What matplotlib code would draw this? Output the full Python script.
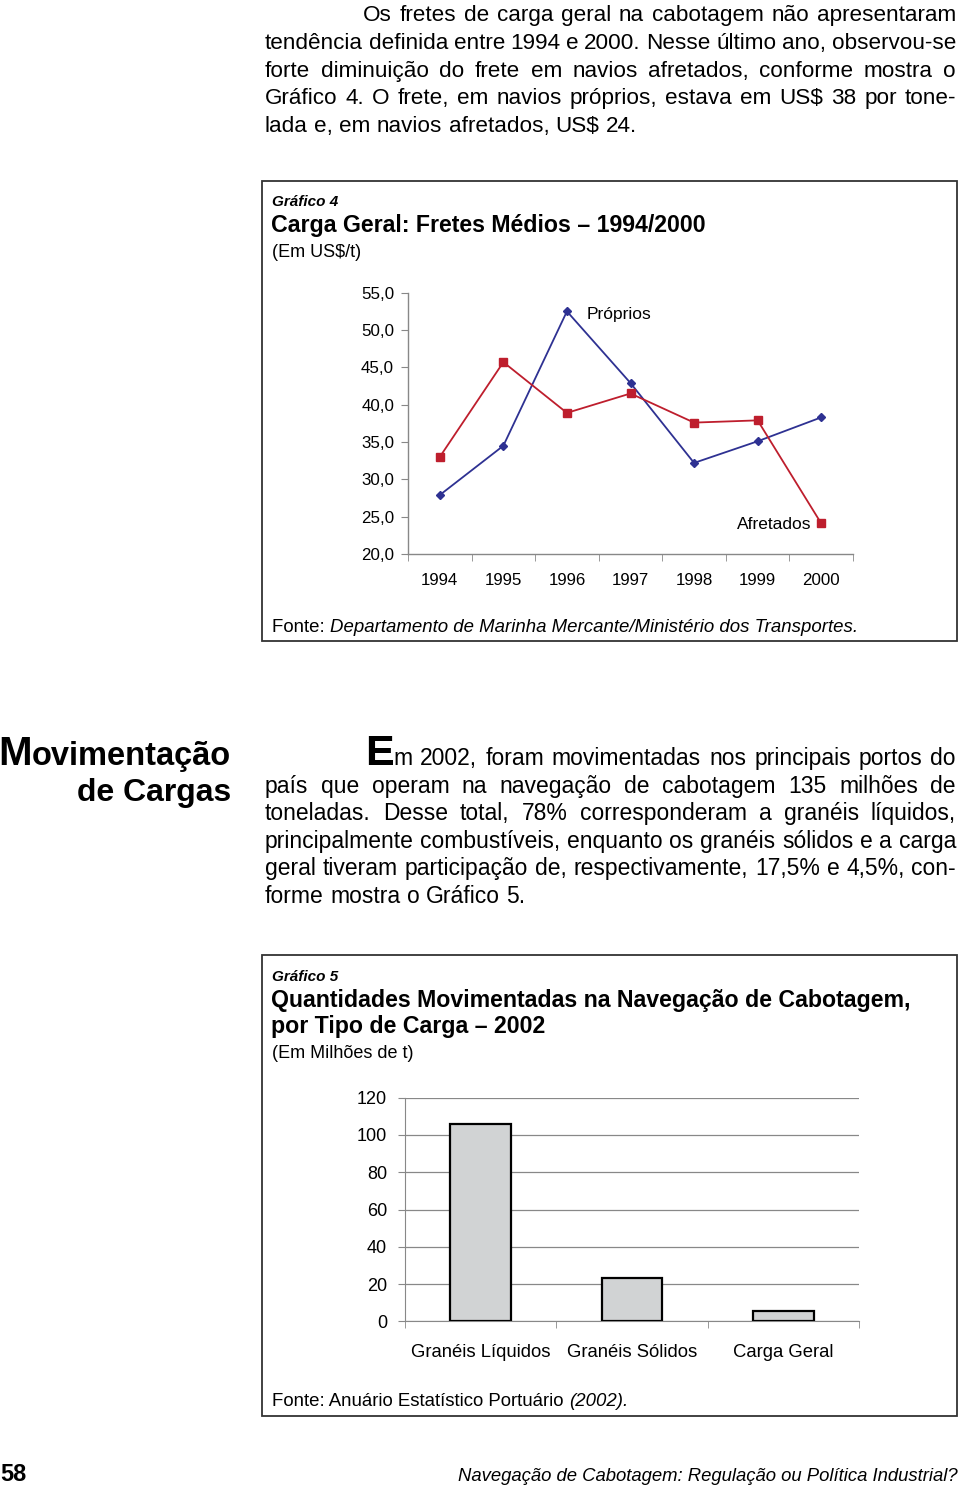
import matplotlib
matplotlib.use('Agg')
import matplotlib.pyplot as plt
from matplotlib.patches import Rectangle
from matplotlib.ticker import FuncFormatter

# ── Dados ──────────────────────────────────────────────────────────────
anos      = ['1994', '1995', '1996', '1997', '1998', '1999', '2000']
proprios  = [27.9, 34.5, 52.5, 42.9, 32.2, 35.1, 38.3]
afretados = [33.0, 45.7, 38.9, 41.5, 37.6, 37.9, 24.1]

tipos   = ['Granéis Líquidos', 'Granéis Sólidos', 'Carga Geral']
milhoes = [105.8, 23.3, 5.6]

par1 = ['Os fretes de carga geral na cabotagem não apresentaram',
        'tendência definida entre 1994 e 2000. Nesse último ano, observou-se',
        'forte diminuição do frete em navios afretados, conforme mostra o',
        'Gráfico 4. O frete, em navios próprios, estava em US$ 38 por tone-',
        'lada e, em navios afretados, US$ 24.']
par2 = ['m 2002, foram movimentadas nos principais portos do',
        'país que operam na navegação de cabotagem 135 milhões de',
        'toneladas. Desse total, 78% corresponderam a granéis líquidos,',
        'principalmente combustíveis, enquanto os granéis sólidos e a carga',
        'geral tiveram participação de, respectivamente, 17,5% e 4,5%, con-',
        'forme mostra o Gráfico 5.']

# ── Página ─────────────────────────────────────────────────────────────
W, H = 960, 1487
plt.rcParams['font.family'] = ['Liberation Sans', 'DejaVu Sans']
fig = plt.figure(figsize=(W / 100, H / 100), dpi=100)
fig.patch.set_facecolor('white')
rend = fig.canvas.get_renderer()


def fx(x):
    return x / W


def fy(y):
    return 1 - y / H


def put(x, y, s, **kw):
    return fig.text(fx(x), fy(y), s, va='baseline', **kw)


def wid(t):
    return t.get_window_extent(rend).width


def space_w(size, **kw):
    a = put(0, 0, 'a a', fontsize=size, **kw)
    b = put(0, 0, 'aa', fontsize=size, **kw)
    w = wid(a) - wid(b)
    a.remove(); b.remove()
    return w


def paragraph(lines, starts, x1, y0, dy, size, min_sp=0.6, **kw):
    # reduz o corpo só se alguma linha não couber nem com espaços apertados
    sp = space_w(size, **kw)
    scale = 1.0
    for i, ln in enumerate(lines[:-1]):
        words = ln.split()
        ts = [put(0, 0, w, fontsize=size, **kw) for w in words]
        nat = sum(wid(t) for t in ts) + sp * min_sp * (len(words) - 1)
        for t in ts:
            t.remove()
        scale = min(scale, (x1 - starts[i]) / nat)
    size = size * scale
    sp = space_w(size, **kw)
    for i, ln in enumerate(lines):
        words = ln.split()
        ts = [put(0, y0 + i * dy, w, fontsize=size, **kw) for w in words]
        ws = [wid(t) for t in ts]
        if i == len(lines) - 1:
            gap = sp
        else:
            gap = (x1 - starts[i] - sum(ws)) / max(len(words) - 1, 1)
        x = starts[i]
        for t, w in zip(ts, ws):
            t.set_x(fx(x))
            x += w + gap


def box(x0, y0, x1, y1):
    fig.patches.append(Rectangle((fx(x0), fy(y1)), fx(x1) - fx(x0), fy(y0) - fy(y1),
                                 transform=fig.transFigure, fill=False,
                                 ec='#333333', lw=1.3))


# parágrafo de abertura
paragraph(par1, [363, 265, 265, 265, 265], 956, 21, 27.8, 16.2)

# ── Gráfico 4 ──────────────────────────────────────────────────────────
box(262, 181, 957, 641)
put(272, 206, 'Gráfico 4', fontsize=11, fontweight='bold', style='italic')
put(271, 232, 'Carga Geral: Fretes Médios – 1994/2000', fontsize=16.7, fontweight='bold')
put(272, 257, '(Em US$/t)', fontsize=13)

ax1 = fig.add_axes([fx(408), fy(554), (853 - 408) / W, (554 - 292.7) / H])
xs = range(len(anos))
ax1.plot(xs, proprios, '-', color='#2E3192', lw=1.3, marker='D', ms=4.5,
         mfc='#2E3192', mec='#2E3192', clip_on=False)
ax1.plot(xs, afretados, '-', color='#BE1E2D', lw=1.3, marker='s', ms=6,
         mfc='#BE1E2D', mec='#BE1E2D', clip_on=False)
ax1.set_xlim(-0.5, len(anos) - 0.5)
ax1.set_ylim(20, 55)
ax1.set_yticks(range(20, 56, 5))
ax1.yaxis.set_major_formatter(FuncFormatter(lambda v, p: f'{v:.1f}'.replace('.', ',')))
ax1.set_xticks(list(xs))
ax1.set_xticklabels(anos)
ax1.set_xticks([i - 0.5 for i in range(len(anos) + 1)], minor=True)
ax1.tick_params(axis='x', which='major', length=0, pad=13.5, labelsize=12.2)
ax1.tick_params(axis='x', which='minor', length=5, color='#888888')
ax1.tick_params(axis='y', length=5, color='#888888', pad=5, labelsize=12.2)
for s in ['top', 'right']:
    ax1.spines[s].set_visible(False)
for s in ['left', 'bottom']:
    ax1.spines[s].set_color('#888888')
    ax1.spines[s].set_linewidth(1)
ax1.patch.set_alpha(0)

put(587, 319, 'Próprios', fontsize=12.5)
put(737, 529, 'Afretados', fontsize=12.5)

f1 = put(272, 632, 'Fonte: ', fontsize=13.4)
put(272 + wid(f1), 632, 'Departamento de Marinha Mercante/Ministério dos Transportes.',
    fontsize=13.4, style='italic')

# ── Movimentação de Cargas ─────────────────────────────────────────────
t_ov = put(231, 765, 'ovimentação', fontsize=23.5, fontweight='bold', ha='right')
put(231 - wid(t_ov), 765, 'M', fontsize=29, fontweight='bold', ha='right')
put(231, 801, 'de Cargas', fontsize=23, fontweight='bold', ha='right')

put(365, 765, 'E', fontsize=31, fontweight='bold')
paragraph(par2, [393, 265, 265, 265, 265, 265], 956, 765, 27.6, 16.5)

# ── Gráfico 5 ──────────────────────────────────────────────────────────
box(262, 955, 957, 1416)
put(272, 981, 'Gráfico 5', fontsize=11, fontweight='bold', style='italic')
put(271, 1007, 'Quantidades Movimentadas na Navegação de Cabotagem,', fontsize=16.7,
    fontweight='bold')
put(271, 1033, 'por Tipo de Carga – 2002', fontsize=16.7, fontweight='bold')
put(272, 1058, '(Em Milhões de t)', fontsize=13)

ax2 = fig.add_axes([fx(405), fy(1321.3), (859 - 405) / W, (1321.3 - 1097.7) / H])
xb = range(len(tipos))
ax2.bar(xb, milhoes, width=0.4, color='#D1D3D4', edgecolor='black', lw=1.6, zorder=3)
ax2.set_xlim(-0.5, len(tipos) - 0.5)
ax2.set_ylim(0, 120)
ax2.set_yticks(range(0, 121, 20))
ax2.yaxis.grid(True, color='#888888', lw=0.9)
ax2.set_axisbelow(True)
ax2.set_xticks(list(xb))
ax2.set_xticklabels(tipos)
ax2.set_xticks([i - 0.5 for i in range(len(tipos) + 1)], minor=True)
ax2.tick_params(axis='x', which='major', length=0, pad=16.5, labelsize=13.3)
ax2.tick_params(axis='x', which='minor', length=5, color='#888888')
ax2.tick_params(axis='y', length=5, color='#888888', pad=8, labelsize=13)
for s in ['top', 'right']:
    ax2.spines[s].set_visible(False)
for s in ['left', 'bottom']:
    ax2.spines[s].set_color('#888888')
ax2.patch.set_alpha(0)

f2 = put(272, 1406, 'Fonte: Anuário Estatístico Portuário ', fontsize=13.4)
put(272 + wid(f2), 1406, '(2002).', fontsize=13.4, style='italic')

# ── Rodapé ─────────────────────────────────────────────────────────────
put(0, 1481, '58', fontsize=17, fontweight='bold')
put(958, 1481, 'Navegação de Cabotagem: Regulação ou Política Industrial?', fontsize=13.3,
    style='italic', ha='right')

fig.savefig('out.png', dpi=100, facecolor='white')
